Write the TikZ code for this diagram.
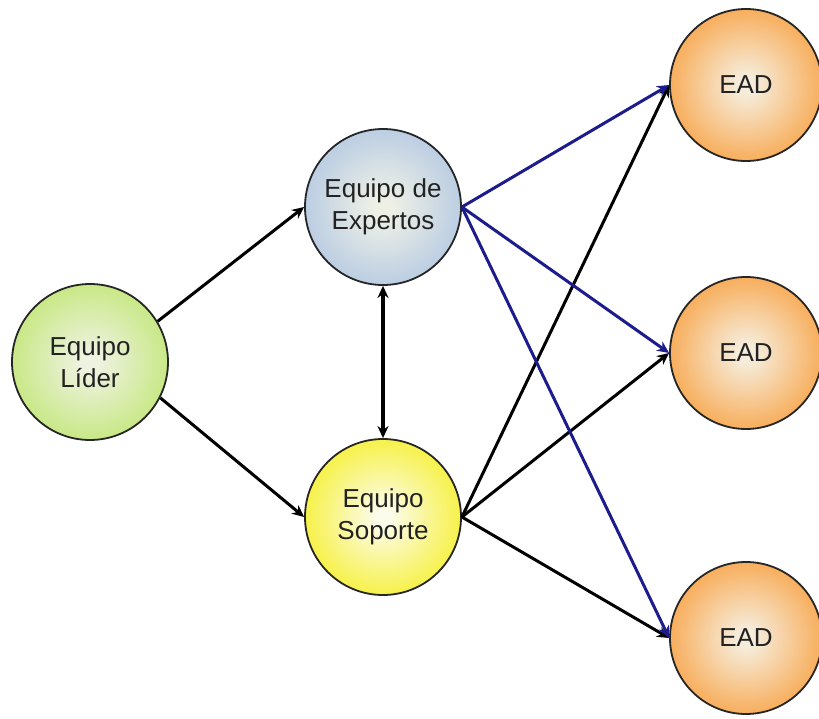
\documentclass[tikz,border=0pt]{standalone}
\usepackage{fontspec}
\setmainfont{Liberation Sans}
\usetikzlibrary{arrows.meta}
\definecolor{gin}{HTML}{EEF2E0}
\definecolor{gout}{HTML}{C0E672}
\definecolor{bin}{HTML}{EEF0E6}
\definecolor{bout}{HTML}{B0C6E2}
\definecolor{yin}{HTML}{FCFCEC}
\definecolor{yout}{HTML}{F6F034}
\definecolor{oin}{HTML}{F6ECDA}
\definecolor{oout}{HTML}{F8A040}
\definecolor{txt}{HTML}{222222}
\definecolor{navy}{HTML}{1C1C8C}
\pgfdeclareradialshading{greenball}{\pgfpoint{0bp}{0bp}}{color(0bp)=(gin); color(3bp)=(gin); color(30bp)=(gout); color(50bp)=(gout)}
\pgfdeclareradialshading{blueball}{\pgfpoint{0bp}{0bp}}{color(0bp)=(bin); color(3bp)=(bin); color(30bp)=(bout); color(50bp)=(bout)}
\pgfdeclareradialshading{yellowball}{\pgfpoint{0bp}{0bp}}{color(0bp)=(yin); color(2bp)=(yin); color(28bp)=(yout); color(50bp)=(yout)}
\pgfdeclareradialshading{orangeball}{\pgfpoint{0bp}{0bp}}{color(0bp)=(oin); color(3bp)=(oin); color(30bp)=(oout); color(50bp)=(oout)}
\tikzset{
  team/.style={circle, draw=black!85, line width=1.8pt, minimum size=156pt, inner sep=0pt,
    align=center, text=txt, font=\fontsize{26}{32}\selectfont},
  ead/.style={team, minimum size=152pt},
  conn/.style={line width=3pt, -{Stealth[length=12pt,width=11pt]}},
  bconn/.style={conn, draw=navy},
  both/.style={line width=3.2pt, {Stealth[length=12pt,width=11pt]}-{Stealth[length=12pt,width=11pt]}},
}
\begin{document}
\begin{tikzpicture}[x=1pt,y=-1pt]
\useasboundingbox (0,0) rectangle (819,719);
\node[team, shading=greenball] (lider) at (90,362) {Equipo\\Líder};
\node[team, shading=blueball] (expertos) at (383,207) {Equipo de\\Expertos};
\node[team, shading=yellowball] (soporte) at (383,517) {Equipo\\Soporte};
\node[ead, shading=orangeball] (ead1) at (746,85) {EAD};
\node[ead, shading=orangeball] (ead2) at (746,353) {EAD};
\node[ead, shading=orangeball] (ead3) at (746,638) {EAD};

\draw[conn] (lider.31) -- (expertos.west);
\draw[conn] (lider.-27) -- (soporte.west);
\draw[both] (expertos.south) -- (soporte.north);

\draw[conn] (soporte.east) -- (ead1.west);
\draw[conn] (soporte.east) -- (ead2.west);
\draw[conn] (soporte.east) -- (ead3.west);
\draw[bconn] (expertos.east) -- (ead1.west);
\draw[bconn] (expertos.east) -- (ead2.west);
\draw[bconn] (expertos.east) -- (ead3.west);
\end{tikzpicture}
\end{document}
